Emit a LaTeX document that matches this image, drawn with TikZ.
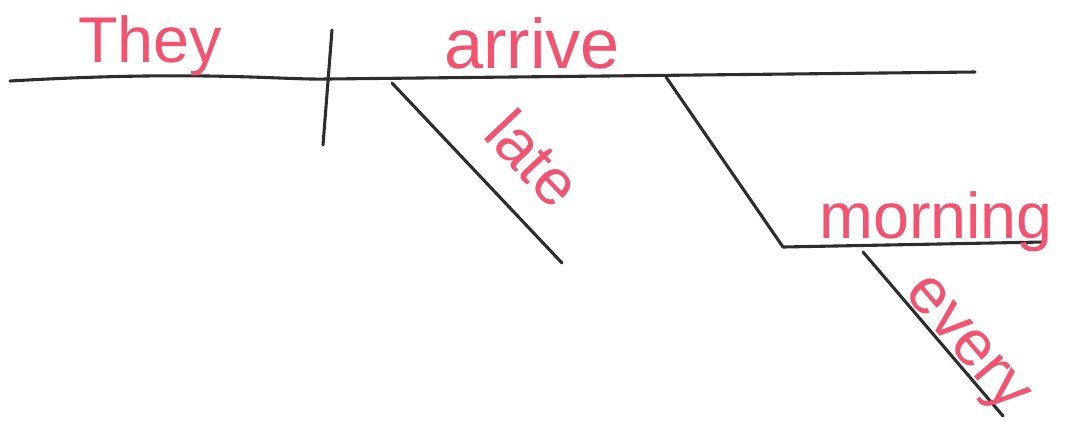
\documentclass[tikz,border=0pt]{standalone}
\usepackage{fontspec}
\newfontfamily\handfont{Liberation Sans}
\usepackage{tikz}
\usetikzlibrary{positioning,calc}
\usepackage{xcolor}
\definecolor{inkpink}{RGB}{242,84,112}
\definecolor{inkgray}{RGB}{45,45,45}

\begin{document}
\begin{tikzpicture}[x=0.025cm,y=-0.025cm,
  word/.style={text=inkpink,font=\handfont\fontsize{46}{46}\selectfont,inner sep=0pt,anchor=base},
  rule/.style={draw=inkgray,line width=2.2pt,line cap=round,line join=round}]
\useasboundingbox (0,0) rectangle (1070,424);
% main line
\coordinate (mainL) at (10,81);
\coordinate (mainR) at (975,72);
\coordinate (divT) at (332,30);
\coordinate (divB) at (323,145);
\draw[rule] (mainL) .. controls (200,70) and (280,80) .. (327,79) -- (mainR);
\draw[rule] (divT)-- (divB);
\node[word] (they) at (150,62) {They};
\node[word,font=\handfont\fontsize{50}{50}\selectfont] (arrive) at (532,68) {arrive};
% modifier of the verb
\coordinate (lateT) at (392,83);
\coordinate (lateB) at (562,263);
\draw[rule] (lateT)-- (lateB);
\node[word,rotate=-46.6] (late) at (517,174) {late};
% adverbial noun
\coordinate (mornT) at (666,77);
\coordinate (mornK) at (783,247);
\coordinate (mornR) at (1043,242);
\draw[rule] (mornT)-- (mornK)-- (mornR);
\node[word] (morning) at (936,238) {morning};
\coordinate (everyT) at (863,252);
\coordinate (everyB) at (1003,416);
\draw[rule] (everyT)-- (everyB);
\node[word,rotate=-49.5] (every) at (955,354) {every};
\end{tikzpicture}
\end{document}
